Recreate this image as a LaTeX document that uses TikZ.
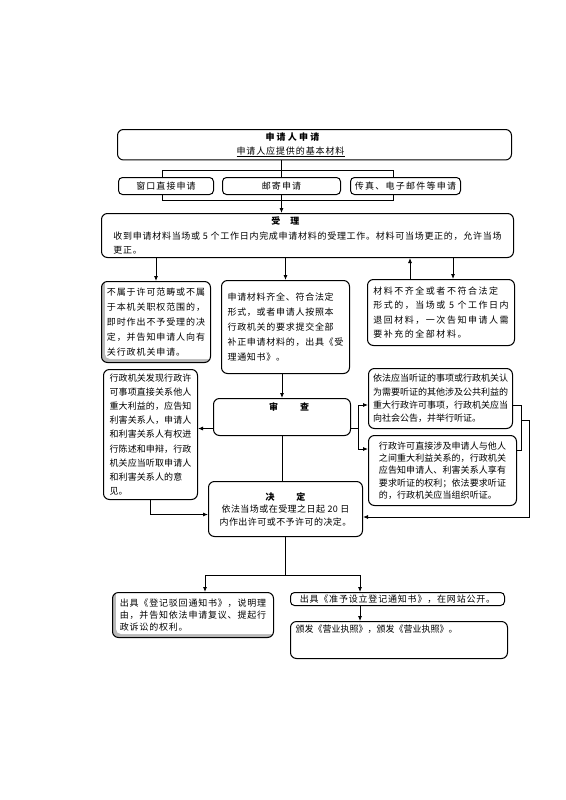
\documentclass[tikz,border=0pt]{standalone}
\usepackage{fontspec}
\setmainfont{Noto Sans CJK SC}
\usetikzlibrary{arrows.meta}
\pgfdeclarelayer{bg}
\pgfsetlayers{bg,main}
\newcommand\boxfont[3]{\fontsize{#1}{#2}\selectfont\addfontfeature{LetterSpace=#3}}
\begin{document}
\begin{tikzpicture}[x=1pt,y=-1pt,
  box/.style={draw=black, line width=1pt, rounded corners=6pt, fill=white, inner sep=3pt, anchor=north west, align=left},
  smallbox/.style={box, rounded corners=4pt, inner sep=1pt, minimum height=17pt, align=center},
  arr/.style={-{Latex[length=5pt,width=4pt]}, line width=0.8pt},
  ln/.style={line width=0.8pt},
  inshade/.style={path picture={
      \fill[gray!55] (path picture bounding box.south west) rectangle (path picture bounding box.north east);
      \fill[white, rounded corners=5pt] ([xshift=3.5pt,yshift=3.5pt]path picture bounding box.south west) rectangle ([xshift=8pt,yshift=8pt]path picture bounding box.north east);}}
]
\useasboundingbox (0,0) rectangle (565,800);

% nodes
\node[box, minimum width=394pt, minimum height=29pt, align=center, font={\boxfont{9}{14}{10}}] (apply) at (117,129)
  {{\bfseries\addfontfeature{LetterSpace=25}申请人申请}\hspace*{44pt}\\\underline{申请人应提供的基本材料}\hspace*{48pt}};

\node[smallbox, minimum width=95pt, font={\boxfont{9}{11}{12}}] (win) at (118,177) {窗口直接申请};
\node[smallbox, minimum width=118pt, font={\boxfont{9}{11}{12}}] (mail) at (222,177) {邮寄申请};
\node[smallbox, minimum width=110pt, font={\boxfont{9}{11}{14}}] (fax) at (350,177) {传真、电子邮件等申请};

\node[box, minimum width=412pt, minimum height=44pt, font={\boxfont{9}{14.5}{8}}] (accept) at (101,213)
  {\hspace*{158pt}{\bfseries 受\hspace{10pt}理}\\收到申请材料当场或 5 个工作日内完成申请材料的受理工作。材料可当场更正的，允许当场\\更正。};

\node[box, inshade, minimum width=109pt, minimum height=81pt, font={\boxfont{9}{14.8}{10}}] (refused) at (101,281)
  {不属于许可范畴或不属\\于本机关职权范围的，\\即时作出不予受理的决\\定，并告知申请人向有\\关行政机关申请。};

\node[box, minimum width=128pt, minimum height=93pt, font={\boxfont{9}{15}{8}}] (complete) at (221,280)
  {申请材料齐全、符合法定\\形式，或者申请人按照本\\行政机关的要求提交全部\\补正申请材料的，出具《受\\理通知书》。};

\node[box, minimum width=147pt, minimum height=66pt, font={\boxfont{9}{14.6}{17}}] (incomplete) at (367,279)
  {材料不齐全或者不符合法定\\形式的，当场或 5 个工作日内\\退回材料，一次告知申请人需\\要补充的全部材料。};

\node[box, minimum width=94pt, minimum height=130pt, font={\boxfont{9}{14.2}{1}}] (discover) at (103,369)
  {行政机关发现行政许\\可事项直接关系他人\\重大利益的，应告知\\利害关系人，申请人\\和利害关系人有权进\\行陈述和申辩，行政\\机关应当听取申请人\\和利害关系人的意\\见。};

\node[box, minimum width=137pt, minimum height=37pt, align=center, text height=8pt, text depth=22pt, font={\boxfont{9}{12}{0}}] (review) at (213,398)
  {\hspace*{14pt}{\bfseries 审\hspace{22pt}查}};

\node[box, minimum width=154pt, minimum height=55pt, align=center, font={\boxfont{9}{12.5}{5}}] (decide) at (208,481)
  {{\bfseries 决\hspace{22pt}定}\\依法当场或在受理之日起 20 日\\内作出许可或不予许可的决定。};

\node[box, minimum width=144pt, minimum height=60pt, font={\boxfont{9}{13.3}{0}}] (hear1) at (368,368)
  {依法应当听证的事项或行政机关认\\为需要听证的其他涉及公共利益的\\重大行政许可事项，行政机关应当\\向社会公告，并举行听证。};

\node[box, minimum width=148pt, minimum height=70pt, font={\boxfont{9}{12.2}{1}}] (hear2) at (368,435)
  {行政许可直接涉及申请人与他人\\之间重大利益关系的，行政机关\\应告知申请人、利害关系人享有\\要求听证的权利；依法要求听证\\的，行政机关应当组织听证。};

\node[box, inshade, minimum width=161pt, minimum height=45pt, font={\boxfont{9}{12}{9}}] (reject) at (112,592)
  {出具《登记驳回通知书》，说明理\\由，并告知依法申请复议、提起行\\政诉讼的权利。};

\node[box, rounded corners=4pt, inner sep=1pt, minimum width=214pt, minimum height=13pt, font={\boxfont{9}{11}{9}}] (grant) at (290,592)
  {出具《准予设立登记通知书》，在网站公开。};

\node[box, inner sep=2pt, minimum width=215pt, minimum height=37pt, text height=9pt, text depth=24pt, font={\boxfont{9}{11}{0}}] (license) at (290,621)
  {\hspace*{3pt}颁发《营业执照》，颁发《营业执照》。\hspace*{48pt}};

% coordinates
\coordinate (brA) at (162,170);
\coordinate (brB) at (393,200);
\coordinate (upR) at (410,279);
\coordinate (dnR) at (453,279);
\coordinate (j1) at (358,405);
\coordinate (j2) at (358,449);
\coordinate (hb1) at (521,405);
\coordinate (hb2) at (521,450);
\coordinate (hm) at (521,420);
\coordinate (hr) at (529,420);
\coordinate (hrb) at (529,517);
\coordinate (bl) at (205,575);
\coordinate (br) at (360,575);

\begin{pgfonlayer}{bg}
\fill[white] (0,0) rectangle (565,800);
\draw[ln] (brA) rectangle (brB);
\draw[arr] (apply.south -| mail) -- (accept.north -| mail);
\draw[arr] (refused.north |- accept.south) -- (refused.north);
\draw[arr] (complete.north |- accept.south) -- (complete.north);
\draw[arr] (upR) -- (upR |- accept.south);
\draw[arr] (dnR |- accept.south) -- (dnR);
\draw[arr] (review.north |- complete.south) -- (review.north);
\draw[arr] ([yshift=-11.5pt]review.west) -- ([yshift=-11.5pt]review.west -| discover.east);
\draw[ln] ([yshift=-11.5pt]review.east) -- ([yshift=-11.5pt]review.east -| j1);
\draw[ln] (j1) -- (j2);
\draw[arr] (j1) -- (j1 -| hear1.west);
\draw[arr] (j2) -- (j2 -| hear2.west);
\draw[ln] (review.south) -- (review.south |- decide.north);
\draw[arr] (discover.south) |- ([yshift=-5.5pt]decide.west);
\draw[ln] (hear1.east |- hb1) -- (hb1) -- (hb2) -- (hb2 -| hear2.east);
\draw[arr] (hm) -- (hr) -- (hrb) -- (hrb -| decide.east);
\draw[ln] (decide.south) -- (decide.south |- bl);
\draw[ln] (bl) -- (br);
\draw[arr] (bl) -- (bl |- reject.north);
\draw[arr] (br) -- (br |- grant.north);
\draw[arr] (br |- grant.south) -- (br |- license.north);
\end{pgfonlayer}
\end{tikzpicture}
\end{document}
